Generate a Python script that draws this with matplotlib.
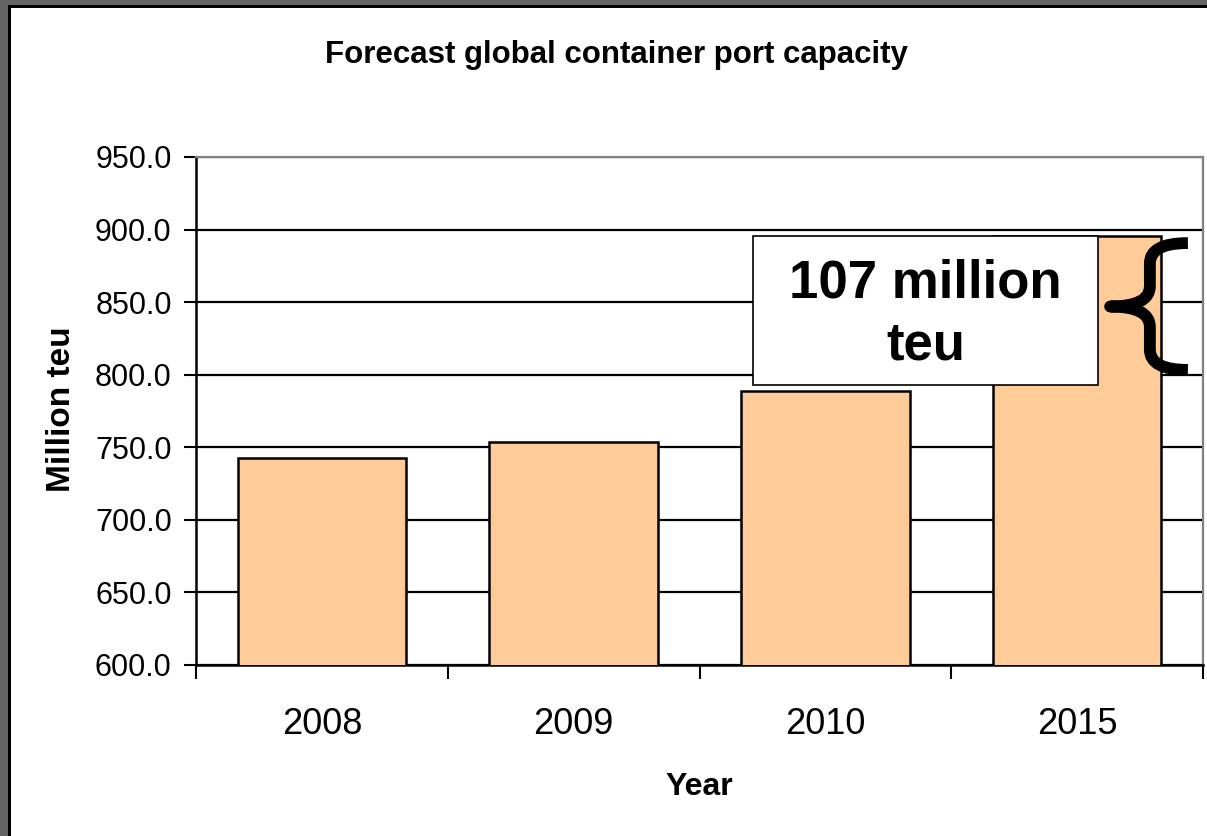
import numpy as np
import matplotlib.pyplot as plt
from matplotlib.patches import Rectangle
from matplotlib.path import Path
from matplotlib.patches import PathPatch

plt.rcParams["font.family"] = ["Liberation Sans", "DejaVu Sans"]

years = ["2008", "2009", "2010", "2015"]
capacity = [742.6, 753.6, 788.6, 895.6]
gap_label = "107 million\nteu"

W, H = 1207, 836
fig = plt.figure(figsize=(W / 100, H / 100), dpi=100)

# window-like frame: grey band and black rule along the top and left edges
fig.patches.append(Rectangle((0, 0), 1, 1, transform=fig.transFigure,
                             facecolor="#646464", edgecolor="none", zorder=-3))
fig.patches.append(Rectangle((8 / W, 0), 1, 1 - 5 / H, transform=fig.transFigure,
                             facecolor="black", edgecolor="none", zorder=-2))
fig.patches.append(Rectangle((11 / W, 0), 1, 1 - 8 / H, transform=fig.transFigure,
                             facecolor="white", edgecolor="none", zorder=-1))

ax = fig.add_axes([196 / W, (H - 665) / H, (1203 - 196) / W, (665 - 157) / H])
ax.set_facecolor("none")

x = np.arange(len(years))
ax.bar(x, capacity, width=0.67, color="#FFCC99", edgecolor="black",
       linewidth=1.8, zorder=3)

ax.set_xlim(-0.5, len(years) - 0.5)
ax.set_ylim(600, 950)
ax.set_yticks(np.arange(600, 951, 50))
ax.set_yticklabels([f"{v:.1f}" for v in np.arange(600, 951, 50)], fontsize=22)
ax.set_xticks(x)
ax.set_xticklabels(years, fontsize=26)
ax.set_xticks(np.arange(-0.5, len(years)), minor=True)
ax.tick_params(axis="x", which="major", length=0, pad=30)
ax.tick_params(axis="x", which="minor", length=10, width=1.5, direction="out")
ax.tick_params(axis="y", length=8.5, width=1.5, direction="out", pad=9)

ax.grid(axis="y", color="black", linewidth=1.6, zorder=0)
ax.set_axisbelow(True)

for side in ("left", "bottom"):
    ax.spines[side].set_color("black")
    ax.spines[side].set_linewidth(1.8)
for side in ("top", "right"):
    ax.spines[side].set_color("#808080")
    ax.spines[side].set_linewidth(1.6)

# callout box for the 2010 -> 2015 increase
box_x0, box_x1 = 1.711, 3.084
box_y0, box_y1 = 792.9, capacity[3]
ax.add_patch(Rectangle((box_x0, box_y0), box_x1 - box_x0, box_y1 - box_y0,
                       facecolor="white", edgecolor="black", linewidth=1.2,
                       zorder=5))
ax.text((box_x0 + box_x1) / 2, (box_y0 + box_y1) / 2 - 3, gap_label,
        ha="center", va="center", fontsize=38, fontweight="bold",
        linespacing=1.3, zorder=6)

# curly brace to the right of the 2015 bar
bx, tip, mid = 3.289, 3.44, 3.131
top, bot = 890.7, 803.3
ym = (top + bot) / 2
r = 14
verts = [(tip, top), (bx, top), (bx, top - r),
         (bx, ym + r), (bx, ym), (mid, ym),
         (bx, ym), (bx, ym - r),
         (bx, bot + r), (bx, bot), (tip, bot)]
codes = [Path.MOVETO, Path.CURVE3, Path.CURVE3,
         Path.LINETO, Path.CURVE3, Path.CURVE3,
         Path.CURVE3, Path.CURVE3,
         Path.LINETO, Path.CURVE3, Path.CURVE3]
ax.add_patch(PathPatch(Path(verts, codes), facecolor="none", edgecolor="black",
                       linewidth=8.5, capstyle="butt", joinstyle="round",
                       zorder=6, clip_on=False))

fig.text(616 / W, 1 - 55 / H, "Forecast global container port capacity",
         ha="center", va="center", fontsize=22.5, fontweight="bold")
fig.text(62 / W, 1 - 409 / H, "Million teu", rotation=90,
         ha="center", va="center", fontsize=24, fontweight="bold")
fig.text(699 / W, 1 - 787 / H, "Year",
         ha="center", va="center", fontsize=23, fontweight="bold")

fig.savefig("out.png", dpi=100)
